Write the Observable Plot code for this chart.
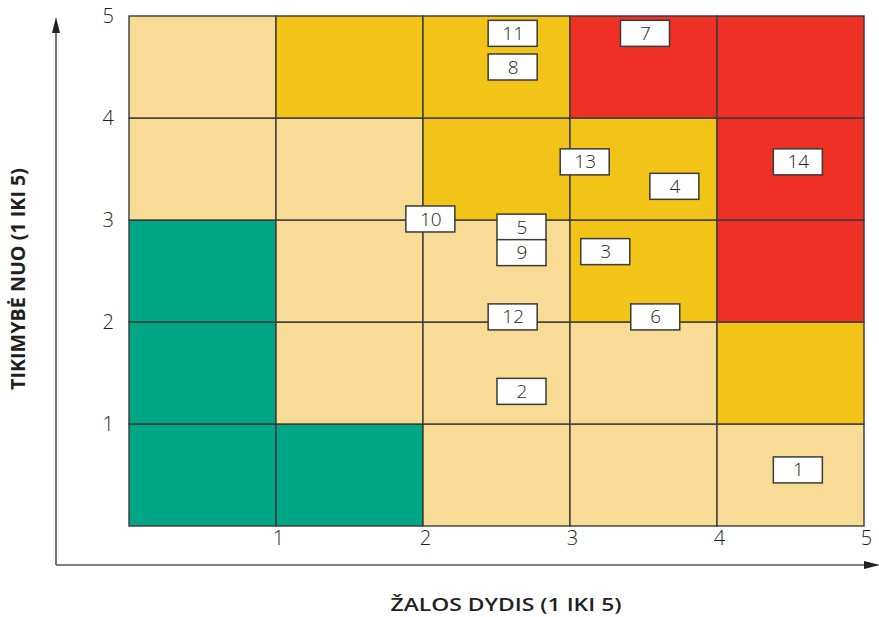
<!DOCTYPE html>
<html>
<head>
<meta charset="utf-8">
<script src="https://cdn.jsdelivr.net/npm/d3@7"></script>
<script src="https://cdn.jsdelivr.net/npm/@observablehq/plot@0.6"></script>
<style>
  html, body { margin: 0; padding: 0; background: #fff; }
  #chart svg { display: block; }
</style>
</head>
<body>
<div id="chart"></div>
<script>
// Risk matrix: columns = ŽALOS DYDIS (1..5), rows = TIKIMYBĖ (1..5)
const severity = [1, 2, 3, 4, 5];
const likelihood = [1, 2, 3, 4, 5];
// zone per row (bottom row first), per column
const zoneRows = [
  ["g", "g", "l", "l", "l"],
  ["g", "l", "l", "l", "y"],
  ["g", "l", "l", "y", "r"],
  ["l", "l", "y", "y", "r"],
  ["l", "y", "y", "r", "r"]
];
const zoneColors = { g: "#00A686", l: "#F8DC95", y: "#F1C417", r: "#EE3124" };

// numbered risks (label, x = severity position, y = likelihood position)
const riskLabels = ["11", "8", "7", "13", "4", "14", "10", "5", "9", "3", "12", "6", "2", "1"];
const riskX = [2.61, 2.61, 3.51, 3.10, 3.71, 4.55, 2.05, 2.67, 2.67, 3.24, 2.61, 3.58, 2.67, 4.55];
const riskY = [4.83, 4.50, 4.83, 3.57, 3.33, 3.57, 3.01, 2.93, 2.68, 2.69, 2.05, 2.05, 1.32, 0.55];

const xTicks = [1, 2, 3, 4, 5];
const yTicks = [1, 2, 3, 4, 5];
const xTitle = "ŽALOS DYDIS (1 IKI 5)";
const yTitle = "TIKIMYBĖ NUO (1 IKI 5)";

const cells = [];
likelihood.forEach((r, ri) => severity.forEach((c, ci) => {
  cells.push({ col: c, row: r, zone: zoneRows[ri][ci] });
}));
const risks = riskLabels.map((label, i) => ({ label, x: riskX[i], y: riskY[i] }));

const W = 879, H = 617;
const mL = 129, mR = 15, mT = 16, mB = 91;
const cellW = (W - mL - mR) / 5, cellH = (H - mT - mB) / 5;
const bw = 49 / cellW / 2, bh = 26 / cellH / 2;
const font = "'Open Sans', 'DejaVu Sans', sans-serif";

const plot = Plot.plot({
  width: W,
  height: H,
  marginLeft: mL,
  marginRight: mR,
  marginTop: mT,
  marginBottom: mB,
  x: { domain: [0, 5], axis: null },
  y: { domain: [0, 5], axis: null },
  style: { fontFamily: font, background: "white" },
  marks: [
    Plot.rect(cells, {
      x1: d => d.col - 1, x2: d => d.col,
      y1: d => d.row - 1, y2: d => d.row,
      fill: d => zoneColors[d.zone],
      stroke: "#3a3a3a", strokeWidth: 1.4
    }),
    Plot.text(xTicks, {
      x: d => d, frameAnchor: "bottom", dy: 18, dx: 2,
      text: d => String(d), fontSize: 20, fill: "#231f20", fontWeight: 300
    }),
    Plot.text(yTicks, {
      y: d => d, frameAnchor: "left", dx: -27, dy: 0,
      text: d => String(d), fontSize: 20, fill: "#231f20", fontWeight: 300
    }),
    Plot.rect(risks, {
      x1: d => d.x - bw, x2: d => d.x + bw,
      y1: d => d.y - bh, y2: d => d.y + bh,
      fill: "white", stroke: "#3a3a3a", strokeWidth: 1.5
    }),
    Plot.text(risks, {
      x: "x", y: "y", text: "label", fontSize: 19, fill: "#231f20", fontWeight: 300
    })
  ]
});

const svg = d3.select(plot);
// axis arrows
const axY = 565, axX = 56;
svg.append("line").attr("x1", axX).attr("y1", axY).attr("x2", axX).attr("y2", 30)
  .attr("stroke", "#555").attr("stroke-width", 1.6);
svg.append("path").attr("d", `M${axX},17 L${axX - 4},33 L${axX + 4},33 Z`).attr("fill", "#222");
svg.append("line").attr("x1", axX).attr("y1", axY).attr("x2", 866).attr("y2", axY)
  .attr("stroke", "#555").attr("stroke-width", 1.6);
svg.append("path").attr("d", `M880,${axY} L864,${axY - 4} L864,${axY + 4} Z`).attr("fill", "#222");

// axis titles
svg.append("text").attr("x", 506).attr("y", 611).attr("text-anchor", "middle")
  .attr("font-family", font).attr("font-size", 18).attr("font-weight", 600)
  .attr("fill", "#231f20").attr("textLength", 231).attr("lengthAdjust", "spacingAndGlyphs")
  .text(xTitle);
svg.append("text").attr("transform", "translate(25,279) rotate(-90)").attr("text-anchor", "middle")
  .attr("font-family", font).attr("font-size", 19).attr("font-weight", 700)
  .attr("fill", "#231f20").attr("textLength", 222).attr("lengthAdjust", "spacingAndGlyphs")
  .text(yTitle);

document.getElementById("chart").appendChild(plot);
</script>
</body>
</html>
